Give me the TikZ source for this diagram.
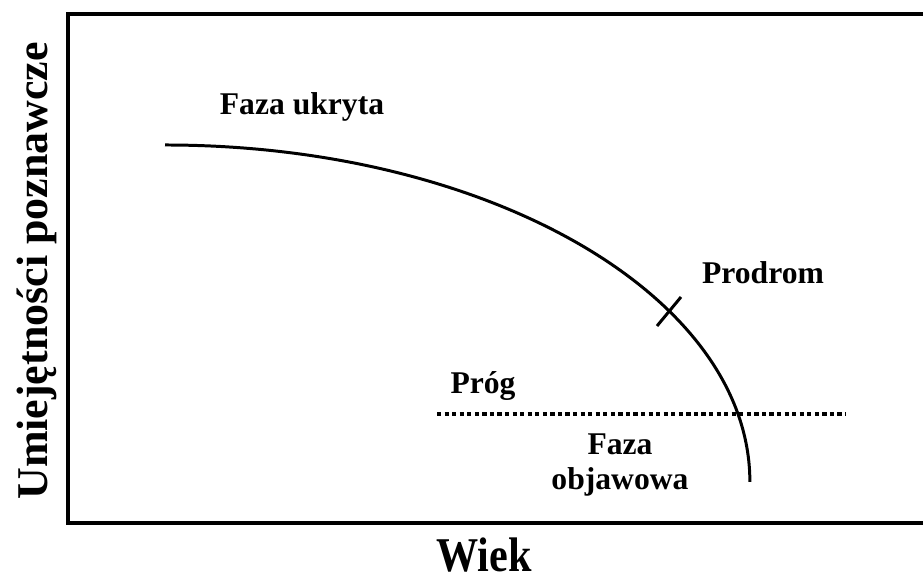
\documentclass[tikz,border=0pt]{standalone}
\usepackage{fontspec}
\setmainfont{Liberation Serif}
\usetikzlibrary{calc}

\begin{document}
\begin{tikzpicture}[
x=0.02cm, y=0.02cm,
frame/.style={line width=2pt},
decline/.style={line width=1.7pt},
threshold/.style={line width=2.6pt, dash pattern=on 2.4pt off 1.9pt},
phase/.style={font=\bfseries\fontsize{18}{20}\selectfont, inner sep=0pt},
axis/.style={font=\bfseries\fontsize{25}{28}\selectfont, inner sep=0pt}
]

\useasboundingbox (0,0) rectangle (923,580);
\clip (0,0) rectangle (923,580);

\def\rx{11.7cm}
\def\ry{6.74cm}

%%% frame (right side runs off the page)
\draw[frame] (940,566) -- (68,566) -- (68,57) -- (940,57);

%%% axis titles
\node[axis, rotate=90] (yaxis) at (37,309) {Umiejętności poznawcze};
\node[axis, font=\bfseries\fontsize{24}{26}\selectfont, yscale=1.15] (xaxis) at (484,25) {Wiek};

%%% curve: quarter of an ellipse
\coordinate (start) at (165,435);
\draw[decline] (start) arc[start angle=90, end angle=0, x radius=\rx, y radius=\ry] coordinate (finish);

%% prodrome tick
\coordinate (prodrom) at (668,269);
\coordinate (t1) at ($(prodrom)+(-11,-15)$);
\coordinate (t2) at ($(prodrom)+(13,14)$);
\draw[decline] (t1) -- (t2);

%% threshold
\coordinate (p1) at (437,166);
\coordinate (p2) at (845,166);
\draw[threshold] (p1) -- (p2);

%%% phases
\node[phase] (latent) at (302,473) {Faza ukryta};
\node[phase] (prodrome) at (763,307) {Prodrom};
\node[phase] (prog) at (483,194) {Próg};
\node[phase, align=center] (symptomatic) at (620,115) {Faza\\objawowa};

\end{tikzpicture}
\end{document}
